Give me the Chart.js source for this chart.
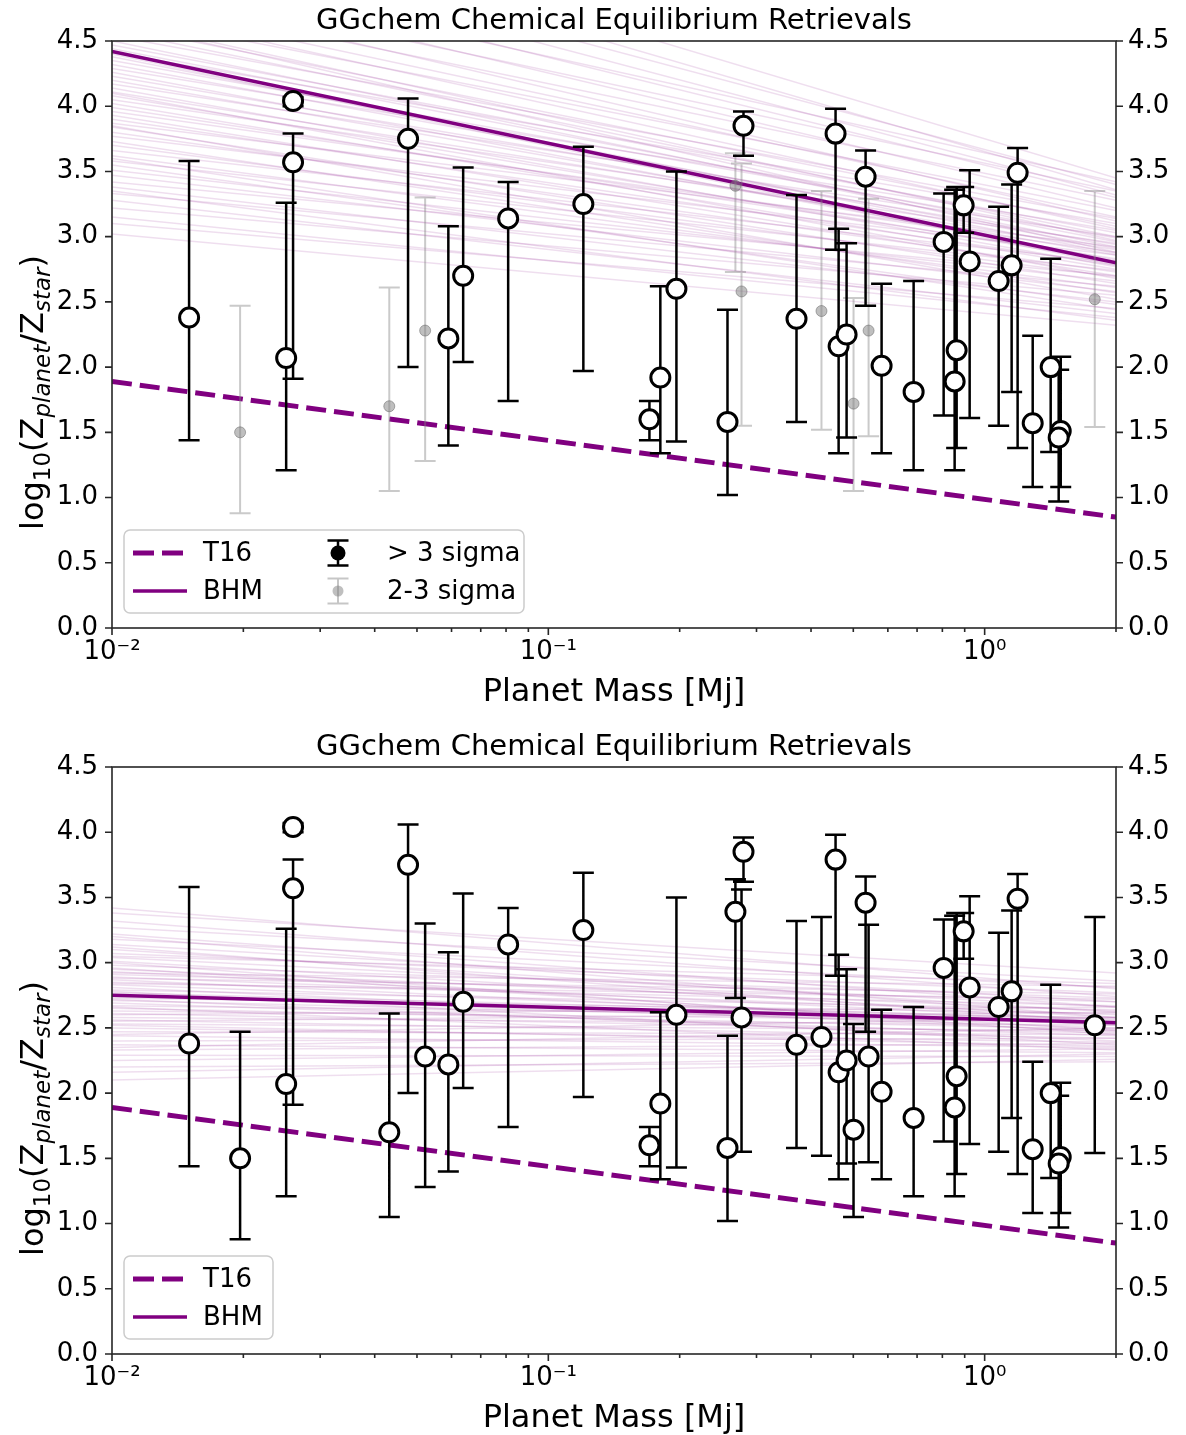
<!DOCTYPE html>
<html>
<head>
<meta charset="utf-8">
<script src="https://cdn.jsdelivr.net/npm/chart.js@4.4.1/dist/chart.umd.min.js"></script>
<style>
  html, body { margin: 0; padding: 0; background: #fff; }
  body { width: 1186px; height: 1435px; overflow: hidden; position: relative; }
  .panel { position: absolute; left: 0; width: 1186px; height: 726px; }
</style>
</head>
<body>
<div class="panel" style="top:0"><canvas id="topChart" width="1186" height="726"></canvas></div>
<div class="panel" style="top:726px"><canvas id="bottomChart" width="1186" height="726"></canvas></div>
<script>
// ---- data ----
// planets with > 3 sigma detections
const massStrong = [0.01502, 0.0260, 0.0260, 0.02507, 0.0477, 0.0590, 0.0638, 0.0809, 0.1203, 0.1966,
                    0.1806, 0.1705, 0.2574, 0.2801, 0.3705, 0.4553, 0.4627, 0.4826, 0.5335, 0.5805,
                    0.6874, 0.8054, 0.8535, 0.8626, 0.8951, 0.9239, 1.0767, 1.153, 1.190, 1.2886,
                    1.4169, 1.494, 1.478];
const zStrong    = [2.38, 4.04, 3.57, 2.07, 3.75, 2.22, 2.70, 3.14, 3.25, 2.60,
                    1.92, 1.60, 1.58, 3.85, 2.37, 3.79, 2.16, 2.25, 3.46, 2.01,
                    1.81, 2.96, 1.89, 2.13, 3.24, 2.81, 2.66, 2.78, 3.49, 1.57,
                    2.00, 1.51, 1.46];
const zStrongLo  = [1.44, 4.00, 1.91, 1.21, 2.00, 1.40, 2.04, 1.74, 1.97, 1.43,
                    1.34, 1.44, 1.02, 3.62, 1.58, 2.90, 1.34, 1.46, 2.47, 1.34,
                    1.21, 1.63, 1.21, 1.38, 3.03, 1.61, 1.55, 1.81, 1.38, 1.08,
                    1.35, 1.08, 0.97];
const zStrongHi  = [3.58, 4.07, 3.79, 3.26, 4.06, 3.08, 3.53, 3.42, 3.69, 3.50,
                    2.62, 1.74, 2.44, 3.96, 3.32, 3.98, 3.06, 2.95, 3.66, 2.64,
                    2.66, 3.33, 3.36, 3.38, 3.38, 3.51, 3.23, 3.40, 3.68, 2.24,
                    2.83, 2.08, 1.98];
// planets with 2-3 sigma detections
const massWeak = [0.01966, 0.0432, 0.0522, 0.2684, 0.2772, 0.4227, 0.5006, 0.5420, 1.788];
const zWeak    = [1.50, 1.70, 2.28, 3.39, 2.58, 2.43, 1.72, 2.28, 2.52];
const zWeakLo  = [0.88, 1.05, 1.28, 2.73, 1.55, 1.52, 1.05, 1.47, 1.54];
const zWeakHi  = [2.47, 2.61, 3.30, 3.64, 3.56, 3.35, 2.53, 3.29, 3.35];

// trend lines, values at the left (0.01 Mj) and right (2 Mj) edges
const t16Z       = [1.89, 0.85];
const bhmTopZ    = [4.42, 2.80];
const bhmBottomZ = [2.75, 2.54];

// posterior draws (faint lines), left / right edge values
const postTopLeft  = [3.02,3.10,3.15,3.22,3.28,3.33,3.38,3.42,3.47,3.51,3.55,3.58,3.62,3.66,3.70,3.73,3.77,3.80,3.84,3.87,
                      3.90,3.93,3.96,3.99,4.02,4.05,4.08,4.11,4.14,4.17,4.20,4.23,4.26,4.29,4.32,4.35,4.38,4.41,4.44,4.47,
                      4.50,4.54,4.58,4.62,4.66,4.70,4.75,4.80,4.86,4.92,4.98,5.05,5.12,5.20,3.35,3.60,3.85,4.10,4.40,4.65,
                      5.35,5.45,5.60,5.75];
const postTopRight = [2.32,2.45,2.38,2.55,2.41,2.62,2.50,2.70,2.58,2.66,2.48,2.74,2.61,2.80,2.69,2.57,2.86,2.73,2.64,2.92,
                      2.78,2.70,2.88,2.83,2.75,2.95,2.81,2.90,2.77,3.00,2.86,2.94,2.82,3.05,2.91,2.99,2.87,3.10,2.96,3.03,
                      2.92,3.14,3.00,3.08,2.97,3.20,3.06,3.15,3.28,3.12,3.35,3.22,3.42,3.30,2.36,2.44,2.52,2.68,2.78,2.88,
                      3.32,3.40,3.36,3.45];
const postBottomLeft  = [2.10,2.16,2.20,2.25,2.29,2.33,2.37,2.40,2.44,2.47,2.50,2.53,2.56,2.58,2.61,2.63,2.65,2.67,2.69,2.71,
                         2.73,2.75,2.77,2.79,2.81,2.83,2.85,2.87,2.89,2.91,2.93,2.95,2.98,3.01,3.04,3.07,3.10,3.14,3.18,3.22,
                         3.27,3.32,3.38,3.42,2.35,2.52,2.60,2.72,2.84,2.96,3.05,3.12,2.45,2.66,2.88,3.00,2.55,2.78,2.92,3.20];
const postBottomRight = [2.26,2.30,2.24,2.34,2.28,2.38,2.31,2.42,2.35,2.45,2.39,2.48,2.42,2.52,2.46,2.55,2.49,2.58,2.44,2.53,
                         2.61,2.50,2.57,2.64,2.47,2.55,2.67,2.52,2.60,2.70,2.56,2.63,2.73,2.58,2.66,2.77,2.62,2.70,2.81,2.66,
                         2.86,2.74,2.92,2.80,2.50,2.36,2.66,2.40,2.72,2.48,2.84,2.54,2.58,2.33,2.76,2.45,2.62,2.37,2.82,2.58];

// axes
const xMin = 0.01, xMax = 2;
const xMajor = [0.01, 0.1, 1];
const xMajorText = ['10\u207B\u00B2', '10\u207B\u00B9', '10\u2070'];
const xMinor = [0.02,0.03,0.04,0.05,0.06,0.07,0.08,0.09,0.2,0.3,0.4,0.5,0.6,0.7,0.8,0.9,2];
const yTicks = [0, 0.5, 1, 1.5, 2, 2.5, 3, 3.5, 4, 4.5];

const titleText = 'GGchem Chemical Equilibrium Retrievals';
const xLabel = 'Planet Mass [Mj]';

const FAMILY = "'DejaVu Sans', 'Liberation Sans', sans-serif";
const PURPLE = '#800080';

function points(m, z, lo, hi){ return m.map((x, i) => ({x: x, y: z[i], lo: lo[i], hi: hi[i]})); }
function edgeLine(z){ return [{x: xMin, y: z[0]}, {x: xMax, y: z[1]}]; }

// error bars drawn right before their marker dataset
const errorBars = {
  id: 'errorBars',
  beforeDatasetDraw(chart, args){
    const ds = chart.data.datasets[args.index];
    if(!ds.errorColor) return;
    const {ctx, chartArea: a, scales: {x, y}} = chart;
    ctx.save();
    ctx.beginPath(); ctx.rect(a.left, a.top, a.right - a.left, a.bottom - a.top); ctx.clip();
    ctx.strokeStyle = ds.errorColor;
    ctx.lineWidth = ds.errorWidth;
    ctx.beginPath();
    ds.data.forEach(p => {
      const px = x.getPixelForValue(p.x);
      const y0 = y.getPixelForValue(p.lo), y1 = y.getPixelForValue(p.hi);
      ctx.moveTo(px, y0); ctx.lineTo(px, y1);
      ctx.moveTo(px - 10.5, y0); ctx.lineTo(px + 10.5, y0);
      ctx.moveTo(px - 10.5, y1); ctx.lineTo(px + 10.5, y1);
    });
    ctx.stroke();
    ctx.restore();
  }
};

// frame, tick marks, titles and the matplotlib-like legend
const figure = {
  id: 'figure',
  afterDatasetsDraw(chart){
    const {ctx, chartArea: a, scales: {x, y}} = chart;
    ctx.save();
    ctx.strokeStyle = '#262626';
    ctx.lineWidth = 1.6;
    ctx.strokeRect(a.left, a.top, a.right - a.left, a.bottom - a.top);
    ctx.beginPath();
    yTicks.forEach(v => {
      const py = y.getPixelForValue(v);
      ctx.moveTo(a.left - 7, py); ctx.lineTo(a.left, py);
      ctx.moveTo(a.right, py); ctx.lineTo(a.right + 7, py);
    });
    xMajor.forEach(v => {
      const px = x.getPixelForValue(v);
      ctx.moveTo(px, a.bottom); ctx.lineTo(px, a.bottom + 7);
    });
    xMinor.forEach(v => {
      const px = x.getPixelForValue(v);
      ctx.moveTo(px, a.bottom); ctx.lineTo(px, a.bottom + 4);
    });
    ctx.stroke();
    ctx.restore();
  },
  afterDraw(chart, args, opts){
    const {ctx, chartArea: a} = chart;
    const cx = (a.left + a.right) / 2;
    ctx.save();
    ctx.fillStyle = '#000';
    ctx.textAlign = 'center';
    ctx.textBaseline = 'alphabetic';
    ctx.font = '29px ' + FAMILY;
    ctx.fillText(titleText, cx, 29);
    ctx.font = '32px ' + FAMILY;
    ctx.fillText(xLabel, cx, a.bottom + 73);

    // y label with subscripts
    const parts = [
      ['log', 32, 0, ''], ['10', 23, 7, ''], ['(Z', 32, 0, ''], ['planet', 23, 7, 'italic '],
      ['/Z', 32, 0, ''], ['star', 23, 7, 'italic '], [')', 32, 0, '']
    ];
    ctx.textAlign = 'left';
    let total = 0;
    parts.forEach(p => { ctx.font = p[3] + p[1] + 'px ' + FAMILY; total += ctx.measureText(p[0]).width; });
    ctx.translate(43, (a.top + a.bottom) / 2 + 58);
    ctx.rotate(-Math.PI / 2);
    let tx = -total / 2;
    parts.forEach(p => {
      ctx.font = p[3] + p[1] + 'px ' + FAMILY;
      ctx.fillText(p[0], tx, p[2]);
      tx += ctx.measureText(p[0]).width;
    });
    ctx.restore();

    // legend
    const bx = a.left + 12, by = a.bottom - 98, bw = opts.legendWidth, bh = 83;
    ctx.save();
    ctx.beginPath();
    ctx.roundRect(bx, by, bw, bh, 6);
    ctx.fillStyle = 'rgba(255,255,255,0.8)';
    ctx.fill();
    ctx.strokeStyle = '#cccccc';
    ctx.lineWidth = 1.5;
    ctx.stroke();
    const rows = [by + 23, by + 61];
    ctx.font = '26px ' + FAMILY;
    ctx.textBaseline = 'middle';
    ctx.textAlign = 'left';
    opts.entries.forEach(e => {
      const ry = rows[e.row];
      const hx = e.col === 0 ? bx + 36 : bx + 214;
      const tx = e.col === 0 ? bx + 79 : bx + 263;
      if(e.kind === 'dash' || e.kind === 'line'){
        ctx.beginPath();
        ctx.strokeStyle = PURPLE;
        ctx.lineWidth = e.kind === 'dash' ? 5 : 3.5;
        ctx.setLineDash(e.kind === 'dash' ? [21, 8] : []);
        ctx.moveTo(hx - 27, ry); ctx.lineTo(hx + 27, ry);
        ctx.stroke();
        ctx.setLineDash([]);
      } else {
        const strong = e.kind === 'strong';
        ctx.strokeStyle = strong ? '#000' : 'rgba(128,128,128,0.45)';
        ctx.lineWidth = strong ? 2.5 : 2;
        ctx.beginPath();
        ctx.moveTo(hx, ry - 12.5); ctx.lineTo(hx, ry + 12.5);
        ctx.moveTo(hx - 10.5, ry - 12.5); ctx.lineTo(hx + 10.5, ry - 12.5);
        ctx.moveTo(hx - 10.5, ry + 12.5); ctx.lineTo(hx + 10.5, ry + 12.5);
        ctx.stroke();
        ctx.beginPath();
        ctx.arc(hx, ry, strong ? 7.5 : 5.5, 0, Math.PI * 2);
        ctx.fillStyle = strong ? '#000' : 'rgba(128,128,128,0.5)';
        ctx.fill();
      }
      ctx.fillStyle = '#000';
      ctx.fillText(e.label, tx, ry + 1);
    });
    ctx.restore();
  }
};

function buildChart(id, strong, weak, bhm, postLeft, postRight, legendEntries, legendWidth){
  const datasets = [
    {data: strong, pointRadius: 9.5, pointHoverRadius: 9.5, pointBackgroundColor: '#fff',
     pointBorderColor: '#000', pointBorderWidth: 3, errorColor: '#000', errorWidth: 2.5},
    {data: weak, pointRadius: 5.5, pointHoverRadius: 5.5, pointBackgroundColor: 'rgba(128,128,128,0.5)',
     pointBorderColor: 'rgba(100,100,100,0.5)', pointBorderWidth: 1, errorColor: 'rgba(128,128,128,0.42)', errorWidth: 2},
    {data: edgeLine(t16Z), showLine: true, borderColor: PURPLE, borderWidth: 5, borderDash: [20, 8], pointRadius: 0},
    {data: edgeLine(bhm), showLine: true, borderColor: PURPLE, borderWidth: 3.5, pointRadius: 0}
  ];
  postLeft.forEach((v, i) => {
    datasets.push({data: edgeLine([v, postRight[i]]), showLine: true,
      borderColor: 'rgba(128,0,128,0.13)', borderWidth: 1.5, pointRadius: 0});
  });

  const tickFont = {family: FAMILY, size: 26};
  const yAxis = (pos, w, pad) => ({
    type: 'linear', position: pos, min: 0, max: 4.5,
    grid: {display: false, drawTicks: false}, border: {display: false},
    ticks: {stepSize: 0.5, padding: pad, color: '#000', font: tickFont, callback: v => v.toFixed(1)},
    afterFit(s){ s.width = w; }
  });

  return new Chart(document.getElementById(id), {
    type: 'scatter',
    data: {datasets: datasets},
    plugins: [errorBars, figure],
    options: {
      responsive: false,
      animation: false,
      events: [],
      layout: {padding: {top: 41, left: 0, right: 0, bottom: 0}},
      scales: {
        x: {
          type: 'logarithmic', position: 'bottom', min: xMin, max: xMax,
          grid: {display: false, drawTicks: false}, border: {display: false},
          afterBuildTicks(s){ s.ticks = xMajor.map(v => ({value: v})); },
          ticks: {autoSkip: false, maxRotation: 0, padding: 9, color: '#000', font: tickFont,
                  callback: (v, i) => xMajorText[i]},
          afterFit(s){ s.height = 98; }
        },
        y: yAxis('left', 112, 14),
        y2: yAxis('right', 70, 12)
      },
      plugins: {
        legend: {display: false},
        tooltip: {enabled: false},
        figure: {entries: legendEntries, legendWidth: legendWidth}
      }
    }
  });
}

buildChart('topChart',
  points(massStrong, zStrong, zStrongLo, zStrongHi),
  points(massWeak, zWeak, zWeakLo, zWeakHi),
  bhmTopZ, postTopLeft, postTopRight,
  [{kind: 'dash', label: 'T16', col: 0, row: 0},
   {kind: 'line', label: 'BHM', col: 0, row: 1},
   {kind: 'strong', label: '> 3 sigma', col: 1, row: 0},
   {kind: 'weak', label: '2-3 sigma', col: 1, row: 1}],
  400);

buildChart('bottomChart',
  points(massStrong.concat(massWeak), zStrong.concat(zWeak), zStrongLo.concat(zWeakLo), zStrongHi.concat(zWeakHi)),
  [],
  bhmBottomZ, postBottomLeft, postBottomRight,
  [{kind: 'dash', label: 'T16', col: 0, row: 0},
   {kind: 'line', label: 'BHM', col: 0, row: 1}],
  149);
</script>
</body>
</html>
